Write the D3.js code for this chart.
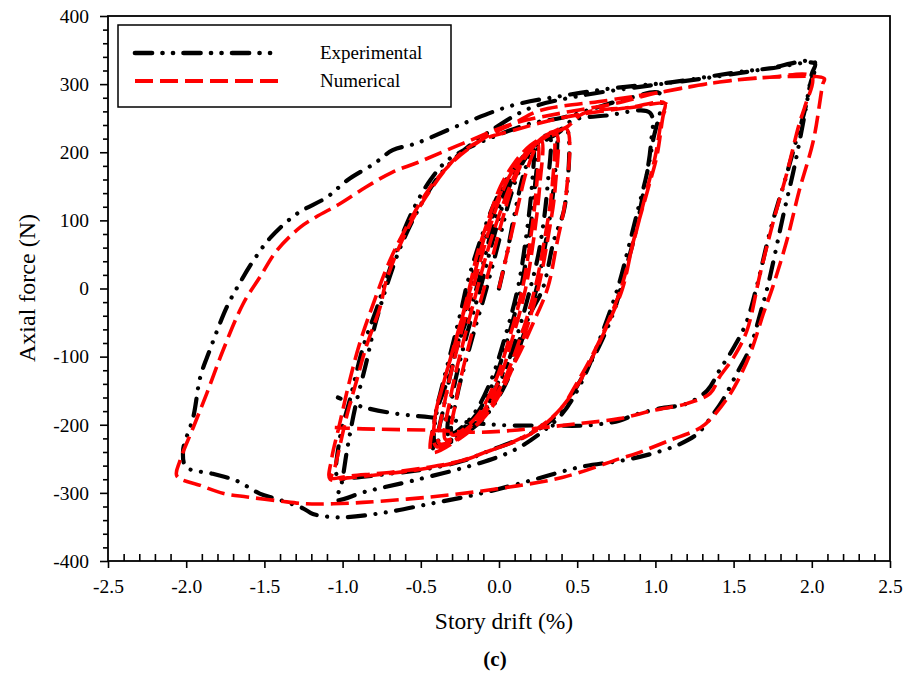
<!DOCTYPE html>
<html>
<head>
<meta charset="utf-8">
<script src="https://cdn.jsdelivr.net/npm/d3@7"></script>
<style>
	body { margin: 0; background: #fff; }
	svg text { font-family: "Liberation Serif", "Times New Roman", serif; fill: #000; }
</style>
</head>
<body>
<svg id="viz" width="906" height="677"></svg>
<script>

// tick labels
var xTicks = [ -2.5, -2.0, -1.5, -1.0, -0.5, 0, 0.5, 1.0, 1.5, 2.0, 2.5 ];
var yTicks = [ -400, -300, -200, -100, 0, 100, 200, 300, 400 ];

// Experimental hysteresis, [story drift %, axial force N], in load order
var expSmall1 = [ [0,0],[0.05,50],[0.1,110],[0.16,170],[0.22,205],[0.21,150],[0.17,70],[0.12,0],[0.04,-70],[-0.06,-140],[-0.18,-190],[-0.3,-212],
	[-0.27,-160],[-0.18,-80],[-0.08,0],[0,70],[0.08,140],[0.16,188],[0.24,210],[0.23,150],[0.19,70],[0.14,0],[0.06,-70],[-0.04,-140],[-0.17,-192],[-0.32,-216] ];
var expSmall2 = [ [-0.3,-160],[-0.22,-80],[-0.12,0],[-0.04,70],[0.05,140],[0.15,190],[0.25,215],[0.32,226],[0.31,150],[0.26,60],[0.2,0],[0.1,-80],[-0.02,-150],[-0.18,-200],[-0.38,-226],
	[-0.35,-170],[-0.27,-90],[-0.17,-20],[-0.12,20],[-0.04,90],[0.06,155],[0.18,200],[0.3,222],[0.36,230],[0.35,150],[0.3,70],[0.24,0],[0.14,-80],[0.02,-150],[-0.14,-200],[-0.4,-230] ];
var expSmall3 = [ [-0.4,-184],[-0.33,-135],[-0.27,-86],[-0.22,-37],[-0.185,0],[-0.14,41],[-0.06,90],[0,139],[0.09,173],[0.155,193],[0.26,212],[0.37,227],[0.43,235],
	[0.42,120],[0.35,70],[0.28,0],[0.2,-37],[0.11,-86],[0,-135],[-0.1,-184],[-0.25,-213],[-0.42,-235],
	[-0.41,-190],[-0.36,-140],[-0.3,-86],[-0.24,-30],[-0.2,10],[-0.12,70],[-0.03,125],[0.06,165],[0.18,200],[0.3,222],[0.41,236] ];
var expMedium = [ [0.47,247],[0.69,254],[0.965,258],[0.97,210],[0.93,150],[0.87,80],[0.8,20],[0.74,-30],[0.64,-85],[0.52,-135],[0.41,-175],[0.31,-198],[0.15,-219],[-0.06,-238],[-0.23,-253],[-0.44,-264],[-0.7,-272],[-0.95,-278],[-1.03,-278],
	[-1.02,-223],[-0.95,-160],[-0.87,-87],[-0.78,-28],[-0.74,0],[-0.65,60],[-0.55,115],[-0.44,159],[-0.33,188],[-0.19,207],[-0.01,225],[0.2,242],[0.41,251],[0.63,266],[0.84,280],[1.03,286],
	[0.985,217],[0.946,169],[0.882,110],[0.818,51],[0.774,12],[0.7,-40],[0.6,-100],[0.5,-150],[0.4,-185],[0.25,-215],[0.09,-238],[-0.12,-256],[-0.55,-282],[-0.85,-298],[-1.04,-310] ];
var expLarge = [ [-1.01,-290],[-0.97,-235],[-0.92,-175],[-0.85,-110],[-0.8,-60],[-0.73,-5],[-0.64,55],[-0.53,110],[-0.4,160],[-0.25,198],[-0.05,232],[0.2,265],[0.5,282],[0.9,296],[1.3,308],[1.7,322],[2.02,332],
	[1.99,300],[1.95,250],[1.89,180],[1.82,110],[1.72,5],[1.67,-37],[1.605,-87],[1.52,-125],[1.43,-164],[1.37,-184],[1.27,-213],[1.16,-228],[0.985,-242],[0.8,-252],[0.52,-262],[0.2,-282],[-0.12,-301],[-0.44,-316],[-0.76,-330],[-1.02,-336],[-1.19,-331],[-1.25,-323],[-1.42,-309],[-1.53,-301],[-1.68,-282],[-1.83,-272],[-2.0,-262],
	[-2.02,-238],[-1.955,-189],[-1.91,-130],[-1.85,-91],[-1.74,-27],[-1.66,7],[-1.57,41],[-1.46,75],[-1.29,110],[-1.1,134],[-0.97,159],[-0.8,183],[-0.68,203],[-0.53,213],[-0.23,242],[0.09,269],[0.41,283],[0.73,294],[1.11,303],[1.54,318],[1.73,323],[2.02,330] ];
var expFinal = [ [2.0,315],[1.96,266],[1.9,217],[1.83,160],[1.74,90],[1.65,5],[1.58,-51],[1.5,-87],[1.41,-120],[1.33,-150],[1.2,-169],[1.03,-176],[0.86,-186],[0.77,-194],[0.56,-201],[0.28,-201],[0.07,-201],[-0.14,-198],[-0.44,-189],[-0.65,-184],[-0.87,-174],[-1.03,-160] ];

// Numerical hysteresis, same units
var numSmall1 = [ [0,0],[0.06,60],[0.12,120],[0.18,175],[0.25,212],[0.24,150],[0.2,70],[0.15,0],[0.07,-70],[-0.03,-140],[-0.15,-190],[-0.3,-215],
	[-0.27,-160],[-0.2,-90],[-0.12,-20],[-0.06,30],[0.02,100],[0.1,160],[0.2,205],[0.27,218],[0.26,150],[0.22,70],[0.17,0],[0.09,-70],[-0.01,-140],[-0.14,-192],[-0.34,-222] ];
var numSmall2 = [ [-0.31,-160],[-0.23,-80],[-0.15,-10],[-0.08,50],[0.02,120],[0.12,175],[0.24,213],[0.34,228],[0.34,150],[0.29,70],[0.23,0],[0.14,-70],[0.02,-140],[-0.14,-195],[-0.38,-228],
	[-0.35,-170],[-0.27,-90],[-0.19,-20],[-0.12,40],[-0.03,110],[0.08,170],[0.22,210],[0.36,230],[0.36,150],[0.31,70],[0.25,0],[0.16,-70],[0.04,-140],[-0.12,-195],[-0.4,-232] ];
var numSmall3 = [ [-0.41,-190],[-0.35,-135],[-0.29,-86],[-0.23,-37],[-0.19,0],[-0.14,50],[-0.07,100],[0.01,150],[0.1,185],[0.2,210],[0.33,228],[0.43,235],
	[0.43,140],[0.37,66],[0.31,0],[0.22,-50],[0.12,-100],[0,-150],[-0.1,-190],[-0.25,-220],[-0.43,-240],
	[-0.41,-190],[-0.35,-135],[-0.28,-80],[-0.22,-30],[-0.17,10],[-0.1,70],[-0.02,125],[0.08,170],[0.2,205],[0.32,225],[0.44,238] ];
var numMedium = [ [0.54,257],[0.86,266],[1.07,271],[1.05,254],[1.01,195],[0.95,144],[0.86,70],[0.79,0],[0.72,-40],[0.62,-90],[0.52,-135],[0.41,-172],[0.3,-198],[0.15,-220],[-0.06,-238],[-0.23,-252],[-0.44,-262],[-0.7,-270],[-0.95,-275],[-1.07,-278],
	[-1.05,-263],[-0.97,-184],[-0.91,-135],[-0.85,-86],[-0.76,-27],[-0.72,12],[-0.59,85],[-0.44,144],[-0.27,193],[-0.12,217],[0.09,232],[0.41,251],[0.84,266],[1.06,272],
	[1.04,250],[1.0,195],[0.94,140],[0.86,68],[0.78,0],[0.71,-42],[0.61,-92],[0.5,-138],[0.4,-175],[0.28,-200],[0.12,-222],[-0.08,-240],[-0.25,-254],[-0.46,-264],[-0.72,-272],[-0.97,-278],[-1.08,-280] ];
var numLarge = [ [-1.07,-250],[-1.02,-200],[-0.96,-140],[-0.89,-80],[-0.8,-20],[-0.7,40],[-0.58,95],[-0.45,145],[-0.3,185],[-0.1,220],[0.1,243],[0.26,261],[0.69,276],[1.03,288],[1.41,303],[1.73,310],[2.08,308],
	[2.07,300],[2.01,217],[1.92,144],[1.84,70],[1.75,2],[1.69,-37],[1.62,-87],[1.56,-120],[1.48,-154],[1.39,-182],[1.29,-204],[1.09,-223],[0.88,-242],[0.77,-250],[0.41,-277],[-0.01,-294],[-0.44,-306],[-0.87,-314],[-1.06,-316],[-1.23,-316],[-1.4,-312],[-1.61,-306],[-1.76,-301],[-1.91,-289],[-2.06,-275],
	[-2.04,-253],[-1.955,-204],[-1.87,-155],[-1.765,-91],[-1.635,-22],[-1.528,17],[-1.42,56],[-1.27,90],[-1.17,105],[-1.02,124],[-0.85,149],[-0.68,171],[-0.52,185],[-0.23,213],[0.09,242],[0.41,258],[0.73,271],[1.03,288],[1.41,303],[1.73,310],[2.0,311] ];
var numFinal = [ [1.96,270],[1.92,242],[1.84,169],[1.75,95],[1.67,22],[1.585,-62],[1.5,-101],[1.41,-130],[1.35,-154],[1.2,-169],[0.985,-179],[0.77,-191],[0.52,-198],[0.2,-206],[-0.12,-211],[-0.44,-208],[-0.87,-206],[-1.05,-204] ];

var series = [
	{ name: 'Experimental', color: '#000', width: 4.2, dash: '17,10.5,0.01,10.5,0.01,10.5', cap: 'round',
		points: [].concat( expSmall1, expSmall2, expSmall3, expMedium, expLarge, expFinal ) },
	{ name: 'Numerical', color: '#f00', width: 3.6, dash: '18,7', cap: 'butt',
		points: [].concat( numSmall1, numSmall2, numSmall3, numMedium, numLarge, numFinal ) }
];

var svg = d3.select( '#viz' );

var x = d3.scaleLinear().domain( [ -2.5, 2.5 ] ).range( [ 108, 890 ] );
var y = d3.scaleLinear().domain( [ -400, 400 ] ).range( [ 561, 16 ] );

var xMinor = d3.range( -25, 26 ).map( function ( d ) { return d / 10; } )
	.filter( function ( d ) { return Math.abs( d * 2 - Math.round( d * 2 ) ) > 1e-6; } );
var yMinor = d3.range( -400, 401, 20 ).filter( function ( d ) { return d % 100 !== 0; } );

// minor ticks
svg.append( 'g' )
	.attr( 'transform', 'translate(0,' + y( -400 ) + ')' )
	.call( d3.axisBottom( x ).tickValues( xMinor ).tickSize( -7 ).tickFormat( '' ) )
	.call( function ( g ) { g.select( '.domain' ).remove(); } );
svg.append( 'g' )
	.attr( 'transform', 'translate(' + x( -2.5 ) + ',0)' )
	.call( d3.axisLeft( y ).tickValues( yMinor ).tickSize( 5 ).tickFormat( '' ) )
	.call( function ( g ) { g.select( '.domain' ).remove(); } );

// major ticks and labels
svg.append( 'g' )
	.attr( 'transform', 'translate(0,' + y( -400 ) + ')' )
	.call( d3.axisBottom( x ).tickValues( xTicks ).tickSize( 7 ).tickPadding( 11 )
		.tickFormat( function ( d ) { return d.toFixed( 1 ); } ) );
svg.append( 'g' )
	.attr( 'transform', 'translate(' + x( -2.5 ) + ',0)' )
	.call( d3.axisLeft( y ).tickValues( yTicks ).tickSize( 8 ).tickPadding( 11 )
		.tickFormat( function ( d ) { return String( d ); } ) );

svg.selectAll( '.tick line' ).attr( 'stroke', '#000' ).attr( 'stroke-width', 1.6 );
svg.selectAll( '.domain' ).remove();
svg.selectAll( '.tick text' )
	.style( 'font-family', '"Liberation Serif", serif' )
	.style( 'font-size', '19.5px' );

// frame
svg.append( 'rect' )
	.attr( 'x', x( -2.5 ) ).attr( 'y', y( 400 ) )
	.attr( 'width', x( 2.5 ) - x( -2.5 ) ).attr( 'height', y( -400 ) - y( 400 ) )
	.attr( 'fill', 'none' ).attr( 'stroke', '#000' ).attr( 'stroke-width', 1.8 );

// curves
var line = d3.line()
	.x( function ( d ) { return x( d[0] ); } )
	.y( function ( d ) { return y( d[1] ); } )
	.curve( d3.curveCatmullRom.alpha( 0.5 ) );

svg.selectAll( 'path.curve' )
	.data( series )
	.enter()
	.append( 'path' )
	.classed( 'curve', true )
	.attr( 'd', function ( d ) { return line( d.points ); } )
	.attr( 'fill', 'none' )
	.attr( 'stroke', function ( d ) { return d.color; } )
	.attr( 'stroke-width', function ( d ) { return d.width; } )
	.attr( 'stroke-dasharray', function ( d ) { return d.dash; } )
	.attr( 'stroke-linecap', function ( d ) { return d.cap; } )
	.attr( 'stroke-linejoin', 'round' );

// legend
svg.append( 'rect' )
	.attr( 'x', 118 ).attr( 'y', 25 ).attr( 'width', 333 ).attr( 'height', 82 )
	.attr( 'fill', '#fff' ).attr( 'stroke', '#000' ).attr( 'stroke-width', 1.5 );

var legend = svg.selectAll( 'g.legend' )
	.data( series )
	.enter()
	.append( 'g' )
	.classed( 'legend', true )
	.attr( 'transform', function ( d, i ) { return 'translate(0,' + ( 53 + i * 28 ) + ')'; } );
legend.append( 'line' )
	.attr( 'x1', 135 )
	.attr( 'x2', function ( d, i ) { return i === 0 ? 271 : 283; } )
	.attr( 'stroke', function ( d ) { return d.color; } )
	.attr( 'stroke-width', function ( d ) { return d.width + 0.5; } )
	.attr( 'stroke-dasharray', function ( d ) { return d.dash; } )
	.attr( 'stroke-linecap', function ( d ) { return d.cap; } );
legend.append( 'text' )
	.attr( 'x', 320 )
	.attr( 'y', 6 )
	.style( 'font-size', '19px' )
	.text( function ( d ) { return d.name; } );

// axis titles
svg.append( 'text' )
	.attr( 'x', 504 ).attr( 'y', 629 )
	.attr( 'text-anchor', 'middle' )
	.style( 'font-size', '23.5px' )
	.text( 'Story drift (%)' );
svg.append( 'text' )
	.attr( 'transform', 'translate(35,288) rotate(-90)' )
	.attr( 'text-anchor', 'middle' )
	.style( 'font-size', '24px' )
	.text( 'Axial force (N)' );
svg.append( 'text' )
	.attr( 'x', 495 ).attr( 'y', 666 )
	.attr( 'text-anchor', 'middle' )
	.style( 'font-size', '21px' )
	.style( 'font-weight', 'bold' )
	.text( '(c)' );

</script>
</body>
</html>
